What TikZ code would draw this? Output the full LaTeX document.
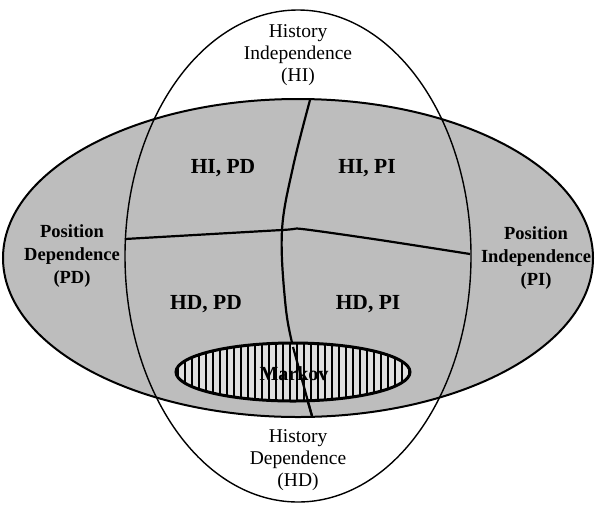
\documentclass[tikz,border=0pt]{standalone}
\usepackage{fontspec}
\setmainfont{Liberation Serif}
\usetikzlibrary{calc}
\definecolor{venngray}{gray}{0.74}
\tikzset{
  outline/.style={line width=1.4pt},
  wideline/.style={line width=2pt},
  divider/.style={line width=2.2pt, line join=round},
  plainlbl/.style={font=\fontsize{19.5}{22}\selectfont, align=center, inner sep=0pt},
  boldlbl/.style={font=\fontsize{18.5}{23}\selectfont\bfseries, align=center, inner sep=0pt},
  regionlbl/.style={font=\fontsize{21.5}{24}\selectfont\bfseries, inner sep=0pt},
}
\begin{document}
\begin{tikzpicture}[x=1pt,y=-1pt]
\useasboundingbox (0,0) rectangle (596,504);
% vertical ellipse (history)
\fill[white] (298,256) ellipse [x radius=173, y radius=246];
% wide ellipse (position)
\fill[venngray] (298,258) ellipse [x radius=295, y radius=159];
\draw[wideline] (298,258) ellipse [x radius=295, y radius=159];
\draw[outline] (298,256) ellipse [x radius=173, y radius=246];
% dividers
\coordinate (vtop) at (310,100);
\coordinate (vbot) at (312,416);
\coordinate (hleft) at (125,239);
\coordinate (hright) at (470,254);
\coordinate (mid) at (282,230);
\draw[divider] plot[smooth, tension=0.6] coordinates {(vtop) (293,167) (mid) (285,300) (293,347) (vbot)};
\draw[divider] plot[smooth, tension=0.4] coordinates {(hleft) (mid) (302,229) (380,240) (hright)};
% Markov ellipse
\begin{scope}
  \clip (293,372) ellipse [x radius=117, y radius=29];
  \fill[gray!25] (176,343) rectangle (411,402);
  \foreach \xx in {178,185,...,412} {
    \draw[line width=1.3pt] (\xx,340) -- (\xx,404);
  }
\end{scope}
\draw[divider] plot[smooth, tension=0.6] coordinates {(293,347) (vbot)};
\node[font=\fontsize{20}{23}\selectfont\bfseries, inner sep=0pt] (markov) at (294,374) {Markov};
\draw[line width=3pt] (293,372) ellipse [x radius=117, y radius=29];
% labels
\node[plainlbl] (hi) at (298,55) {History\\Independence\\(HI)};
\node[plainlbl] (hd) at (298,460) {History\\Dependence\\(HD)};
\node[boldlbl] (pd) at (72,256) {Position\\Dependence\\(PD)};
\node[boldlbl] (pi) at (536,258) {Position\\Independence\\(PI)};
\node[regionlbl] (hipd) at (223,168) {HI, PD};
\node[regionlbl] (hipi) at (367,168) {HI, PI};
\node[regionlbl] (hdpd) at (206,304) {HD, PD};
\node[regionlbl] (hdpi) at (368,304) {HD, PI};
\end{tikzpicture}
\end{document}
